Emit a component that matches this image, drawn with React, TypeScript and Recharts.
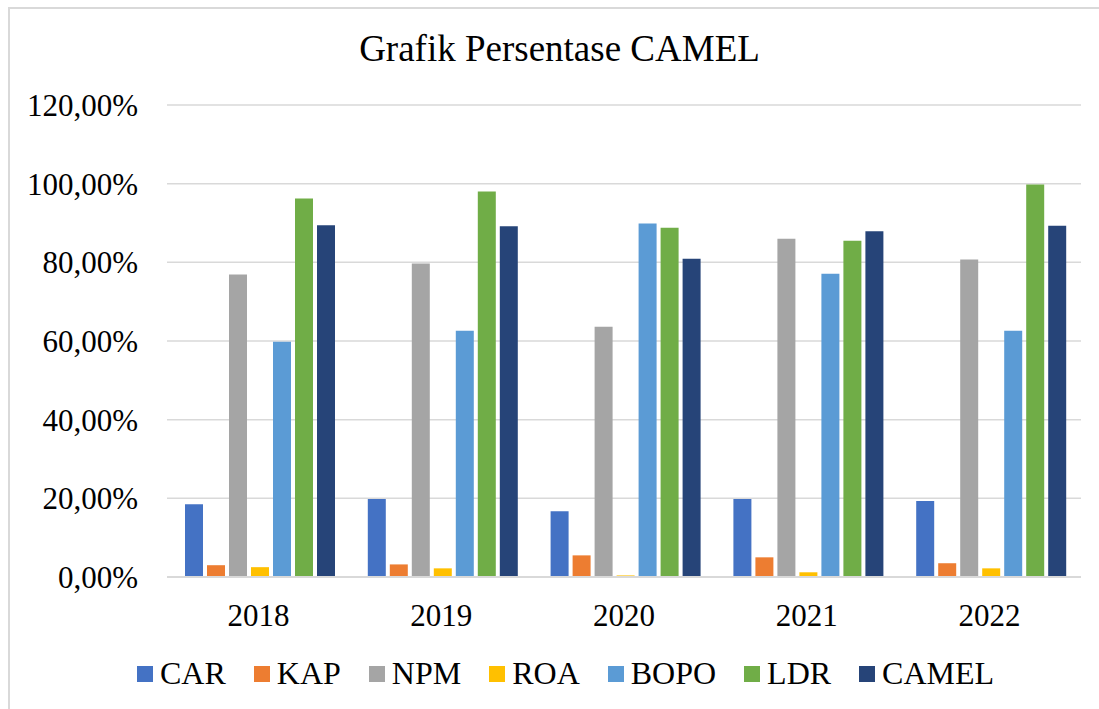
import React from 'react';
import { BarChart, Bar, XAxis, YAxis, CartesianGrid } from 'recharts';

const years = ['2018', '2019', '2020', '2021', '2022'];

const car = [18.5, 19.8, 16.7, 19.8, 19.3];
const kap = [3.0, 3.2, 5.5, 5.0, 3.5];
const npm = [76.9, 79.7, 63.6, 86.0, 80.7];
const roa = [2.5, 2.2, 0.4, 1.2, 2.2];
const bopo = [59.8, 62.6, 89.9, 77.1, 62.6];
const ldr = [96.2, 98.0, 88.8, 85.5, 99.8];
const camel = [89.4, 89.2, 80.9, 87.9, 89.3];

const yTicks = [0, 20, 40, 60, 80, 100, 120];

const SERIES = [
  { key: 'CAR', values: car, color: '#4472C4' },
  { key: 'KAP', values: kap, color: '#ED7D31' },
  { key: 'NPM', values: npm, color: '#A5A5A5' },
  { key: 'ROA', values: roa, color: '#FFC000' },
  { key: 'BOPO', values: bopo, color: '#5B9BD5' },
  { key: 'LDR', values: ldr, color: '#70AD47' },
  { key: 'CAMEL', values: camel, color: '#264478' },
];

const data = years.map((year, i) => {
  const row: any = { year };
  SERIES.forEach((s) => {
    row[s.key] = s.values[i];
  });
  return row;
});

const FONT = '"Liberation Serif", "Times New Roman", serif';

const fmtPct = (v: number) => `${v.toFixed(2).replace('.', ',')}%`;

export default function App() {
  return (
    <div
      style={{
        position: 'absolute',
        left: 0,
        top: 0,
        width: 1099,
        height: 709,
        background: '#fff',
        fontFamily: FONT,
        overflow: 'hidden',
      }}
    >
      {/* chart frame, only top and left edges are visible */}
      <div
        style={{
          position: 'absolute',
          left: 8,
          top: 7,
          width: 1200,
          height: 800,
          borderTop: '2px solid #d9d9d9',
          borderLeft: '2px solid #d9d9d9',
        }}
      />
      <div
        style={{
          position: 'absolute',
          left: 0,
          width: 1099,
          top: 27,
          textAlign: 'center',
          fontSize: 37,
          color: '#000',
          paddingLeft: 20,
          boxSizing: 'border-box',
        }}
      >
        Grafik Persentase CAMEL
      </div>
      <div style={{ position: 'absolute', left: 0, top: 0 }}>
        <BarChart
          width={1099}
          height={709}
          data={data}
          margin={{ top: 105, right: 18, bottom: 72, left: 0 }}
          barCategoryGap={18}
          barGap={4}
        >
          <CartesianGrid vertical={false} stroke="#d9d9d9" strokeWidth={1.5} />
          <XAxis
            dataKey="year"
            height={60}
            tickLine={false}
            tickSize={0}
            tickMargin={27}
            axisLine={{ stroke: '#d9d9d9', strokeWidth: 2 }}
            tick={{ fill: '#000', fontSize: 31, fontFamily: FONT }}
          />
          <YAxis
            width={167}
            domain={[0, 120]}
            ticks={yTicks}
            interval={0}
            axisLine={false}
            tickLine={false}
            tickSize={0}
            tickMargin={29}
            tickFormatter={fmtPct}
            tick={{ fill: '#000', fontSize: 31, fontFamily: FONT }}
          />
          {SERIES.map((s) => (
            <Bar key={s.key} dataKey={s.key} fill={s.color} isAnimationActive={false} />
          ))}
        </BarChart>
      </div>
      <div
        style={{
          position: 'absolute',
          left: 137,
          top: 655,
          display: 'flex',
          alignItems: 'center',
          fontSize: 32,
          color: '#000',
          whiteSpace: 'nowrap',
        }}
      >
        {SERIES.map((s) => (
          <div key={s.key} style={{ display: 'flex', alignItems: 'center', marginRight: 28 }}>
            <span style={{ display: 'inline-block', width: 16, height: 16, background: s.color, marginRight: 7 }} />
            <span>{s.key}</span>
          </div>
        ))}
      </div>
    </div>
  );
}
